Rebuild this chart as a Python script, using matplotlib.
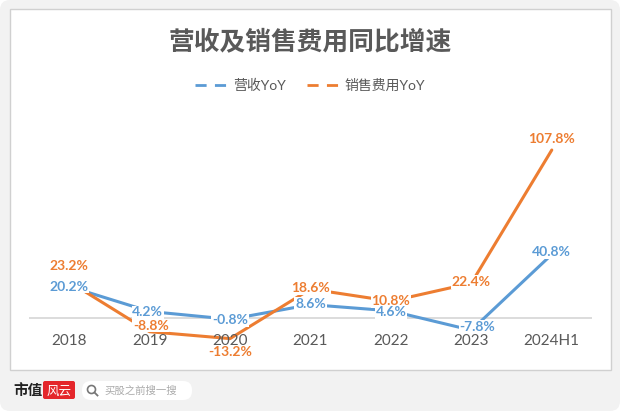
import matplotlib
matplotlib.use("Agg")
import matplotlib.pyplot as plt
from matplotlib.patches import FancyBboxPatch, Rectangle, Circle
from matplotlib.lines import Line2D

plt.rcParams['font.family'] = ['Lato', 'Noto Sans CJK SC', 'DejaVu Sans']

# data
categories = ['2018', '2019', '2020', '2021', '2022', '2023', '2024H1']
revenue_yoy = [20.2, 4.2, -0.8, 8.6, 4.6, -7.8, 40.8]
sales_exp_yoy = [23.2, -8.8, -13.2, 18.6, 10.8, 22.4, 107.8]
series_names = ['营收YoY', '销售费用YoY']
title = '营收及销售费用同比增速'

blue = '#5b9bd5'
orange = '#ed7d31'
gray_txt = '#595959'

W, H = 620, 411
fig = plt.figure(figsize=(W / 100, H / 100), dpi=100, facecolor='white')

# background / decoration layer in pixel coords
bg = fig.add_axes([0, 0, 1, 1])
bg.set_xlim(0, W)
bg.set_ylim(H, 0)
bg.axis('off')
bg.add_patch(FancyBboxPatch((0, 0), W, H, boxstyle='round,pad=0,rounding_size=10',
                            facecolor='#f2f2f2', edgecolor='none'))
bg.add_patch(Rectangle((10, 9), 601, 361, facecolor='white', edgecolor='#d0d0d0', lw=1))

# footer logo + search box
bg.text(13, 391, '市值', fontsize=10.5, fontweight='bold', color='#222222', va='center', ha='left')
bg.add_patch(FancyBboxPatch((43, 381), 32, 18, boxstyle='round,pad=0,rounding_size=2',
                            facecolor='#e4262b', edgecolor='none'))
bg.text(59, 390.5, '风云', fontsize=9, fontstyle='italic', color='white', va='center', ha='center')
bg.add_patch(FancyBboxPatch((82, 381), 110, 19, boxstyle='round,pad=0,rounding_size=9',
                            facecolor='white', edgecolor='none'))
bg.add_patch(Circle((91.5, 389.5), 4, facecolor='none', edgecolor='#777777', lw=1.2))
bg.plot([94.5, 97.5], [392.5, 395.5], color='#777777', lw=1.3)
bg.text(104, 390.5, '买股之前搜一搜', fontsize=7.5, color='#aaaaaa', va='center', ha='left')

# title and legend
fig.text(0.5, 1 - 41 / H, title, fontsize=18.5, fontweight='bold', color=gray_txt,
         ha='center', va='center')
handles = [Line2D([], [], color=blue, lw=2, linestyle=(0, (4, 3))),
           Line2D([], [], color=orange, lw=2, linestyle=(0, (4, 3)))]
fig.legend(handles, series_names, loc='center', bbox_to_anchor=(0.5, 1 - 85 / H), ncol=2,
           frameon=False, fontsize=10, labelcolor=gray_txt, handlelength=2.3,
           columnspacing=1.5, handletextpad=0.4)

# main chart
ax = fig.add_axes([29 / W, 1 - 349.2 / H, 563 / W, 218.2 / H])
ax.patch.set_visible(False)
x = list(range(len(categories)))
ax.set_xlim(-0.5, len(categories) - 0.5)
ax.set_ylim(-20, 120)
for s in ax.spines.values():
    s.set_visible(False)
ax.set_xticks([])
ax.set_yticks([])
ax.axhline(0, color='#d9d9d9', lw=1.3, zorder=1)

ax.plot(x, revenue_yoy, color=blue, lw=2.2, zorder=2, solid_capstyle='round')
ax.plot(x, sales_exp_yoy, color=orange, lw=2.2, zorder=2, solid_capstyle='round')

for i, c in enumerate(categories):
    ax.annotate(c, (i, 0), xytext=(0, -23), textcoords='offset pixels',
                ha='center', va='center', fontsize=11, color=gray_txt)

box = dict(facecolor='white', edgecolor='none', pad=0.5)
blue_off = [(0, 0), (-2, -1), (0, -1), (0, 1), (0, -1), (6, 3), (0, 2)]
orange_off = [(0, 16), (1, 6), (0, -13), (0, 1), (0, 0), (0, 1), (0, 11)]
for i, v in enumerate(revenue_yoy):
    ax.annotate(f'{v:.1f}%', (i, v), xytext=blue_off[i], textcoords='offset pixels',
                ha='center', va='center', fontsize=10, fontweight='bold', color=blue,
                bbox=box, zorder=4)
for i, v in enumerate(sales_exp_yoy):
    ax.annotate(f'{v:.1f}%', (i, v), xytext=orange_off[i], textcoords='offset pixels',
                ha='center', va='center', fontsize=10, fontweight='bold', color=orange,
                bbox=box, zorder=3)

fig.savefig('out.png', dpi=100, facecolor=fig.get_facecolor())
